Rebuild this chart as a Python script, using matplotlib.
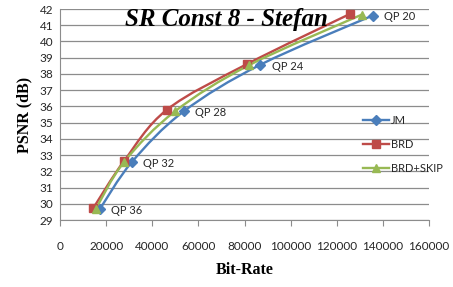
import numpy as np
import matplotlib
matplotlib.use("Agg")
import matplotlib.pyplot as plt
from matplotlib.path import Path
import matplotlib.patches as mpatches

qp_labels = ["QP 36", "QP 32", "QP 28", "QP 24", "QP 20"]

jm_rate = [17300, 31200, 53600, 86900, 135600]
jm_psnr = [29.68, 32.58, 35.69, 38.57, 41.6]

brd_rate = [14500, 27800, 46400, 81000, 125800]
brd_psnr = [29.75, 32.64, 35.8, 38.6, 41.7]

skip_rate = [15500, 27900, 49900, 82100, 130800]
skip_psnr = [29.68, 32.6, 35.7, 38.55, 41.65]

series = [("JM", jm_rate, jm_psnr, "#4A7EBB", "D", 5),
          ("BRD", brd_rate, brd_psnr, "#BE4B48", "s", 6),
          ("BRD+SKIP", skip_rate, skip_psnr, "#98B954", "^", 6)]


def smooth_path(xs, ys, t=1.0 / 6):
    # excel-ish smoothed line: bezier segments with catmull-rom handles
    pts = np.column_stack([xs, ys]).astype(float)
    verts = [pts[0]]
    codes = [Path.MOVETO]
    n = len(pts)
    for i in range(n - 1):
        p0 = pts[i - 1] if i > 0 else pts[i]
        p1 = pts[i]
        p2 = pts[i + 1]
        p3 = pts[i + 2] if i + 2 < n else pts[i + 1]
        c1 = p1 + (p2 - p0) * t
        c2 = p2 - (p3 - p1) * t
        verts += [c1, c2, p2]
        codes += [Path.CURVE4] * 3
    return Path(verts, codes)


fig = plt.figure(figsize=(4.53, 2.87), dpi=100)
ax = fig.add_axes([0.1325, 0.2334, 0.8145, 0.7352])

handles = []
for name, xs, ys, col, mk, ms in series:
    ax.add_patch(mpatches.PathPatch(smooth_path(xs, ys), facecolor="none",
                                    edgecolor=col, lw=1.7, zorder=3))
    ax.plot(xs, ys, ls="none", color=col, marker=mk, ms=ms,
            markeredgecolor=col, zorder=4)
    handles.append(ax.plot([], [], color=col, lw=1.7, marker=mk, ms=ms, label=name)[0])

for lab, x, y in zip(qp_labels, jm_rate, jm_psnr):
    ax.annotate(lab, (x, y), xytext=(8, -1), textcoords="offset points",
                ha="left", va="center", fontsize=8, family="Lato", color="#262626")

ax.set_xlim(0, 160000)
ax.set_ylim(29, 42)
ax.set_xticks(np.arange(0, 160001, 20000))
ax.set_yticks(np.arange(29, 43, 1))
ax.grid(axis="y", color="#8c8c8c", lw=0.9)
ax.set_axisbelow(True)
for s in ["top", "right"]:
    ax.spines[s].set_visible(False)
ax.spines["left"].set_color("#8c8c8c")
ax.spines["bottom"].set_color("#8c8c8c")
ax.tick_params(axis="x", length=4, color="#8c8c8c", pad=11, labelsize=8.5, labelcolor="#262626")
ax.tick_params(axis="y", length=0, pad=5, labelsize=8.5, labelcolor="#262626")
for lb in ax.get_xticklabels() + ax.get_yticklabels():
    lb.set_family("Lato")

ax.set_xlabel("Bit-Rate", family="Liberation Serif", fontweight="bold", fontsize=11.5, labelpad=7)
ax.set_ylabel("PSNR (dB)", family="Liberation Serif", fontweight="bold", fontsize=11.5, labelpad=5)
ax.text(0.45, 0.948, "SR Const 8 - Stefan", transform=ax.transAxes, ha="center", va="center",
        family="Liberation Serif", fontweight="bold", fontstyle="italic", fontsize=18)

leg = ax.legend(handles=handles, loc="upper left", bbox_to_anchor=(0.82, 0.497),
                frameon=False, handlelength=2.4, labelspacing=1.15, borderpad=0,
                borderaxespad=0, handletextpad=0.15, prop={"family": "Lato", "size": 8})
for t in leg.get_texts():
    t.set_color("#262626")

fig.savefig("out.png", dpi=100)
